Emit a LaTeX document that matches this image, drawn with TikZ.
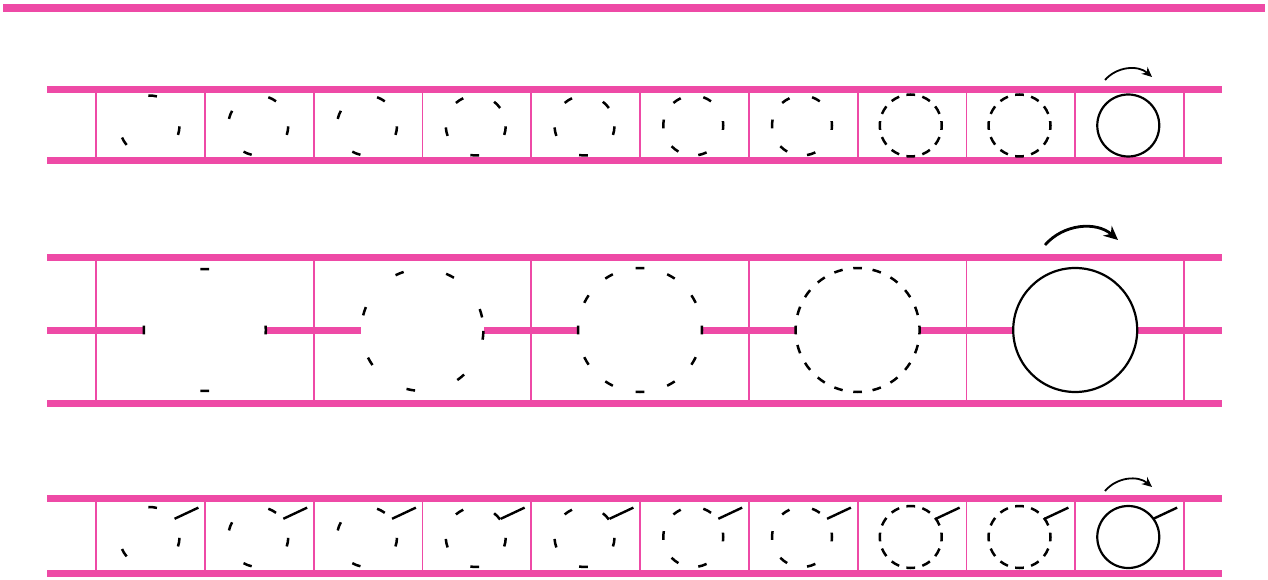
\documentclass[tikz,border=0pt]{standalone}
\usetikzlibrary{arrows.meta, calc}

\definecolor{railpink}{RGB}{238,74,166}

% short arcs of a ring, one at each angle of the list
\newcommand{\dashring}[3]{%
  \pgfmathsetmacro{\dw}{250/#2}%
  \foreach \a in {#3}
    \draw[ring] (#1) ++({\a-\dw}:#2) arc[start angle={\a-\dw}, end angle={\a+\dw}, radius=#2];%
}

\begin{document}
\begin{tikzpicture}[
    x=1pt, y=1pt,
    rail/.style={draw=railpink, line width=7pt},
    rung/.style={draw=railpink, line width=1.8pt},
    ring/.style={draw=black, line width=2.5pt},
    full/.style={draw=black, line width=2.2pt},
    stick/.style={draw=black, line width=2.4pt},
    turn/.style={-{Stealth[length=10pt,width=9pt]}, line width=1.8pt, bend left=45},
    bigturn/.style={-{Stealth[length=14pt,width=13pt]}, line width=2.8pt, bend left=45}
]
\useasboundingbox (0,0) rectangle (1268,579);

% top line
\draw[railpink, line width=8pt] (3,571) -- (1265,571);

% ---- row 1: small cells ----
\draw[rail] (47,489) -- (1222,489);
\draw[rail] (47,418) -- (1222,418);
\foreach \k in {0,...,10}
  \draw[rung] ({96+108.8*\k},418) -- ({96+108.8*\k},489);
\foreach \i in {1,...,10}
  \coordinate (a\i) at ({149.5+108.75*(\i-1)},453.5);

\dashring{a1}{30}{84,350,212}
\dashring{a2}{30}{62,159,249,350}
\dashring{a3}{30}{62,159,249,350}
\dashring{a4}{30}{44,123,192,268,350}
\dashring{a5}{30}{44,123,192,268,350}
\dashring{a6}{30}{0,62,123,177,232,288}
\dashring{a7}{30}{0,62,123,177,232,288}
\dashring{a8}{31}{0,30,...,330}
\dashring{a9}{31}{0,30,...,330}
\draw[full] (a10) circle[radius=31];

\coordinate (s1) at (1105,499);
\coordinate (e1) at (1152,502);
\draw[turn] (s1) to (e1);

% ---- row 2: large cells ----
\draw[rail] (47,321) -- (1222,321);
\draw[rail] (47,176) -- (1222,176);
\foreach \k in {0,...,5}
  \draw[rung] ({96+217.6*\k},176) -- ({96+217.6*\k},321);
\foreach \i in {1,...,5}
  \coordinate (m\i) at ({204.8+217.6*(\i-1)},249);

\draw[rail] (47,249) -- ([xshift=-60pt]m1);
\draw[rail] ([xshift=62pt]m1) -- ([xshift=-61pt]m2);
\draw[rail] ([xshift=62pt]m2) -- ([xshift=-61pt]m3);
\draw[rail] ([xshift=62pt]m3) -- ([xshift=-61pt]m4);
\draw[rail] ([xshift=62pt]m4) -- ([xshift=-62pt]m5);
\draw[rail] ([xshift=62pt]m5) -- (1222,249);

\dashring{m1}{61}{0,90,180,270}
\dashring{m2}{61}{16,355,63,112,162,211,259,309}
\dashring{m3}{62}{0,30,...,330}
\dashring{m4}{62}{0,18,...,342}
\draw[full] (m5) circle[radius=62];

\coordinate (s2) at (1045,334);
\coordinate (e2) at (1118,339);
\draw[bigturn] (s2) to (e2);

% ---- row 3: small cells with stick ----
\draw[rail] (47,81) -- (1222,81);
\draw[rail] (47,6) -- (1222,6);
\foreach \k in {0,...,10}
  \draw[rung] ({96+108.8*\k},6) -- ({96+108.8*\k},81);
\foreach \i in {1,...,10}
  \coordinate (b\i) at ({149.5+108.75*(\i-1)},42);

\dashring{b1}{30}{84,350,212}
\dashring{b2}{30}{62,159,249,350}
\dashring{b3}{30}{62,159,249,350}
\dashring{b4}{30}{44,123,192,268,350}
\dashring{b5}{30}{44,123,192,268,350}
\dashring{b6}{30}{0,62,123,177,232,288}
\dashring{b7}{30}{0,62,123,177,232,288}
\dashring{b8}{31}{0,30,...,330}
\dashring{b9}{31}{0,30,...,330}
\draw[full] (b10) circle[radius=31];
\foreach \i in {1,...,10}
  \draw[stick] ($(b\i)+(36:31)$) -- ($(b\i)+(31:57)$);

\coordinate (s3) at (1105,88);
\coordinate (e3) at (1152,92);
\draw[turn] (s3) to (e3);

\end{tikzpicture}
\end{document}
